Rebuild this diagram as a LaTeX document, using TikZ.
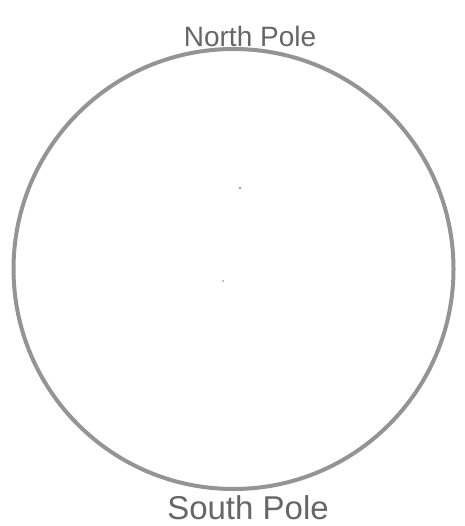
\documentclass[tikz,border=0pt]{standalone}
\usepackage{fontspec}
\setmainfont{Liberation Sans}
\begin{document}
\begin{tikzpicture}[x=1pt,y=-1pt,
  pencil/.style={draw=black!42, line width=4pt},
  label/.style={text=black!60, inner sep=0pt}]
\useasboundingbox (0,0) rectangle (464,526);
\node[pencil, circle, minimum size=440pt, inner sep=0pt, fill=none] (globe) at (233.5,269) {};
\node[label, font=\fontsize{28}{30}\selectfont, anchor=base] (north) at (250,47) {North Pole};
\node[label, font=\fontsize{33}{35}\selectfont, anchor=base] (south) at (248,519) {South Pole};
\fill[black!50] (240,188) circle (1.2pt);
\fill[black!40] (223,281) circle (1pt);
\end{tikzpicture}
\end{document}
